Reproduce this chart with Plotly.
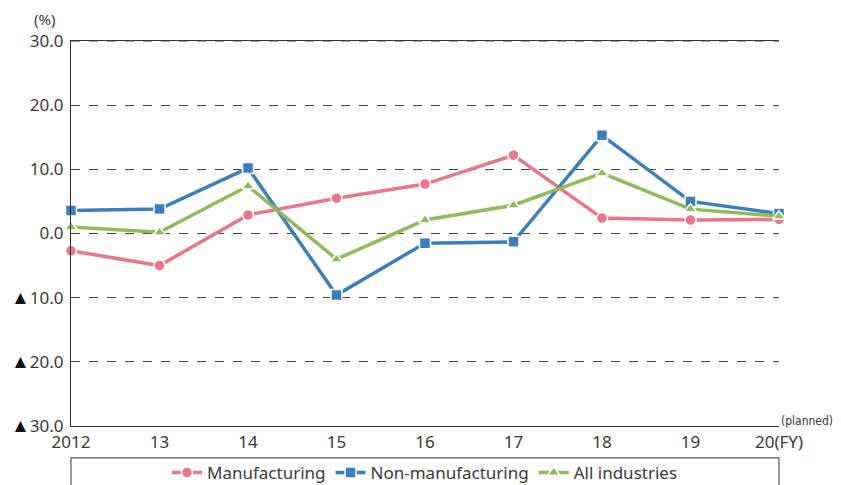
import plotly.graph_objects as go

years = ["2012", "13", "14", "15", "16", "17", "18", "19", "20(FY)"]
manufacturing = [-2.7, -5.0, 2.9, 5.5, 7.7, 12.2, 2.4, 2.1, 2.2]
non_manufacturing = [3.6, 3.8, 10.2, -9.6, -1.5, -1.3, 15.3, 5.0, 3.1]
all_industries = [1.0, 0.2, 7.4, -4.0, 2.1, 4.4, 9.4, 3.8, 2.7]
y_tickvals = [-30, -20, -10, 0, 10, 20, 30]
TRI = "<span style='font-size:19px;color:#111'>▲</span>"
y_ticktext = [TRI + "30.0", TRI + "20.0", TRI + "10.0", "0.0", "10.0", "20.0", "30.0"]

FONT = "Noto Sans"
TXT = "#3a3a3a"

fig = go.Figure()
series = [
    ("Manufacturing", manufacturing, "#e8778b", "circle"),
    ("Non-manufacturing", non_manufacturing, "#3b80be", "square"),
    ("All industries", all_industries, "#90bb58", "triangle-up"),
]
for name, vals, col, sym in series:
    fig.add_trace(go.Scatter(
        x=list(range(len(years))), y=vals, name=name, mode="lines+markers",
        line=dict(color=col, width=3.5),
        marker=dict(symbol=sym, size=11, color=col, line=dict(color="white", width=1.5)),
        cliponaxis=False,
    ))

fig.update_layout(
    width=833, height=477,
    margin=dict(l=63, r=62, t=33, b=59, autoexpand=False),
    paper_bgcolor="white", plot_bgcolor="white",
    font=dict(family=FONT, size=17, color=TXT),
    showlegend=True,
    legend=dict(orientation="h", x=0.5, xanchor="center", y=-0.122, yanchor="middle",
                font=dict(size=17, color=TXT), bgcolor="rgba(0,0,0,0)",
                itemwidth=30, tracegroupgap=0),
    xaxis=dict(
        range=[0, 8], tickmode="array", tickvals=list(range(len(years))), ticktext=years,
        showgrid=False, zeroline=False, showline=True, linecolor="#333", linewidth=1.2,
        mirror=True, ticks="", tickfont=dict(size=17, color=TXT),
    ),
    yaxis=dict(
        range=[-30, 30], tickmode="array", tickvals=y_tickvals, ticktext=y_ticktext,
        showgrid=True, gridcolor="#444", griddash="dash", gridwidth=1,
        zeroline=False, showline=True, linecolor="#333", linewidth=1.2,
        ticks="", ticklabelstandoff=3, tickfont=dict(size=17, color=TXT),
    ),
    shapes=[
        dict(type="rect", xref="paper", yref="paper", x0=0, x1=1, y0=-0.083, y1=-0.25,
             line=dict(color="#555", width=1.2), fillcolor="rgba(0,0,0,0)", layer="below"),
        dict(type="line", xref="paper", yref="paper", x0=0, x1=1, y0=1, y1=1,
             line=dict(color="#444", width=1, dash="dash")),
    ],
    annotations=[
        dict(text="(%)", xref="paper", yref="paper", x=-0.02, y=1.056, xanchor="right",
             yanchor="middle", showarrow=False, font=dict(size=15, color=TXT)),
        dict(text="(planned)", xref="paper", yref="paper", x=1.0, y=0.013, xanchor="left",
             yanchor="middle", showarrow=False,
             font=dict(size=12, color=TXT,
                       family="DejaVu Sans Condensed, Liberation Sans Narrow, Noto Sans")),
    ],
)

fig.write_html("out.html")
